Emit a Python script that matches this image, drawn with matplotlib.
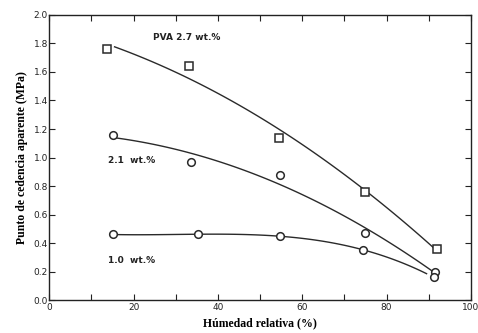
import numpy as np
import matplotlib
matplotlib.use("Agg")
import matplotlib.pyplot as plt
from matplotlib.ticker import MultipleLocator, FormatStrFormatter

# Data
hum_27 = [13.8, 33.1, 54.5, 75.0, 92.0]
val_27 = [1.76, 1.64, 1.14, 0.76, 0.36]
hum_21 = [15.2, 33.6, 54.8, 74.8, 91.4]
val_21 = [1.16, 0.97, 0.88, 0.47, 0.20]
hum_10 = [15.2, 35.2, 54.8, 74.5, 91.2]
val_10 = [0.46, 0.46, 0.45, 0.35, 0.16]
series_labels = ["PVA 2.7 wt.%", "2.1  wt.%", "1.0  wt.%"]
x_ticklabels = ["0", "20", "40", "60", "80", "100"]

fig = plt.figure(figsize=(4.78, 3.33), dpi=100)
ax = fig.add_axes([0.103, 0.099, 0.882, 0.856])

def trend(x, y, deg, x0, x1):
    c = np.polyfit(x, y, deg)
    xs = np.linspace(x0, x1, 100)
    return xs, np.polyval(c, xs)

lc = "#2a2a2a"
xs, ys = trend(hum_27, val_27, 2, 15.5, 92)
ax.plot(xs, ys, color=lc, lw=1.0)
xs, ys = trend(hum_21, val_21, 2, 15.5, 91.5)
ax.plot(xs, ys, color=lc, lw=1.0)
xs, ys = trend(hum_10, val_10, 3, 15.5, 89.5)
ax.plot(xs, ys, color=lc, lw=1.0)

ax.plot(hum_27, val_27, ls="none", marker="s", ms=5.5, mfc="white", mec=lc, mew=1.1)
ax.plot(hum_21, val_21, ls="none", marker="o", ms=5.5, mfc="white", mec=lc, mew=1.1)
ax.plot(hum_10, val_10, ls="none", marker="o", ms=5.5, mfc="white", mec=lc, mew=1.1)

tfont = dict(family="DejaVu Sans", fontsize=6.5, color="#222222", fontweight="bold")
ax.text(24.5, 1.84, series_labels[0], ha="left", va="center", **tfont)
ax.text(14.0, 0.98, series_labels[1], ha="left", va="center", **tfont)
ax.text(14.0, 0.28, series_labels[2], ha="left", va="center", **tfont)

ax.set_xlim(0, 100)
ax.set_ylim(0, 2.0)
ax.xaxis.set_minor_locator(MultipleLocator(10))
ax.yaxis.set_major_locator(MultipleLocator(0.2))
ax.yaxis.set_major_formatter(FormatStrFormatter("%.1f"))
ax.set_xticks([0, 20, 40, 60, 80, 100])
ax.set_xticklabels(x_ticklabels)
ax.tick_params(axis="both", which="both", direction="in", top=True, right=True,
               labelsize=6.5, colors="#222222", length=4, width=0.8)
ax.tick_params(axis="x", pad=2)
ax.tick_params(axis="y", pad=1)
for s in ax.spines.values():
    s.set_linewidth(1.0)
    s.set_color("#222222")

ax.set_xlabel("Húmedad relativa (%)", family="Liberation Serif", fontweight="bold",
              fontsize=8.5, labelpad=4)
ax.set_ylabel("Punto de cedencia aparente (MPa)", family="Liberation Serif",
              fontweight="bold", fontsize=8.5, labelpad=4)

fig.savefig("out.png", dpi=100, facecolor="white")
